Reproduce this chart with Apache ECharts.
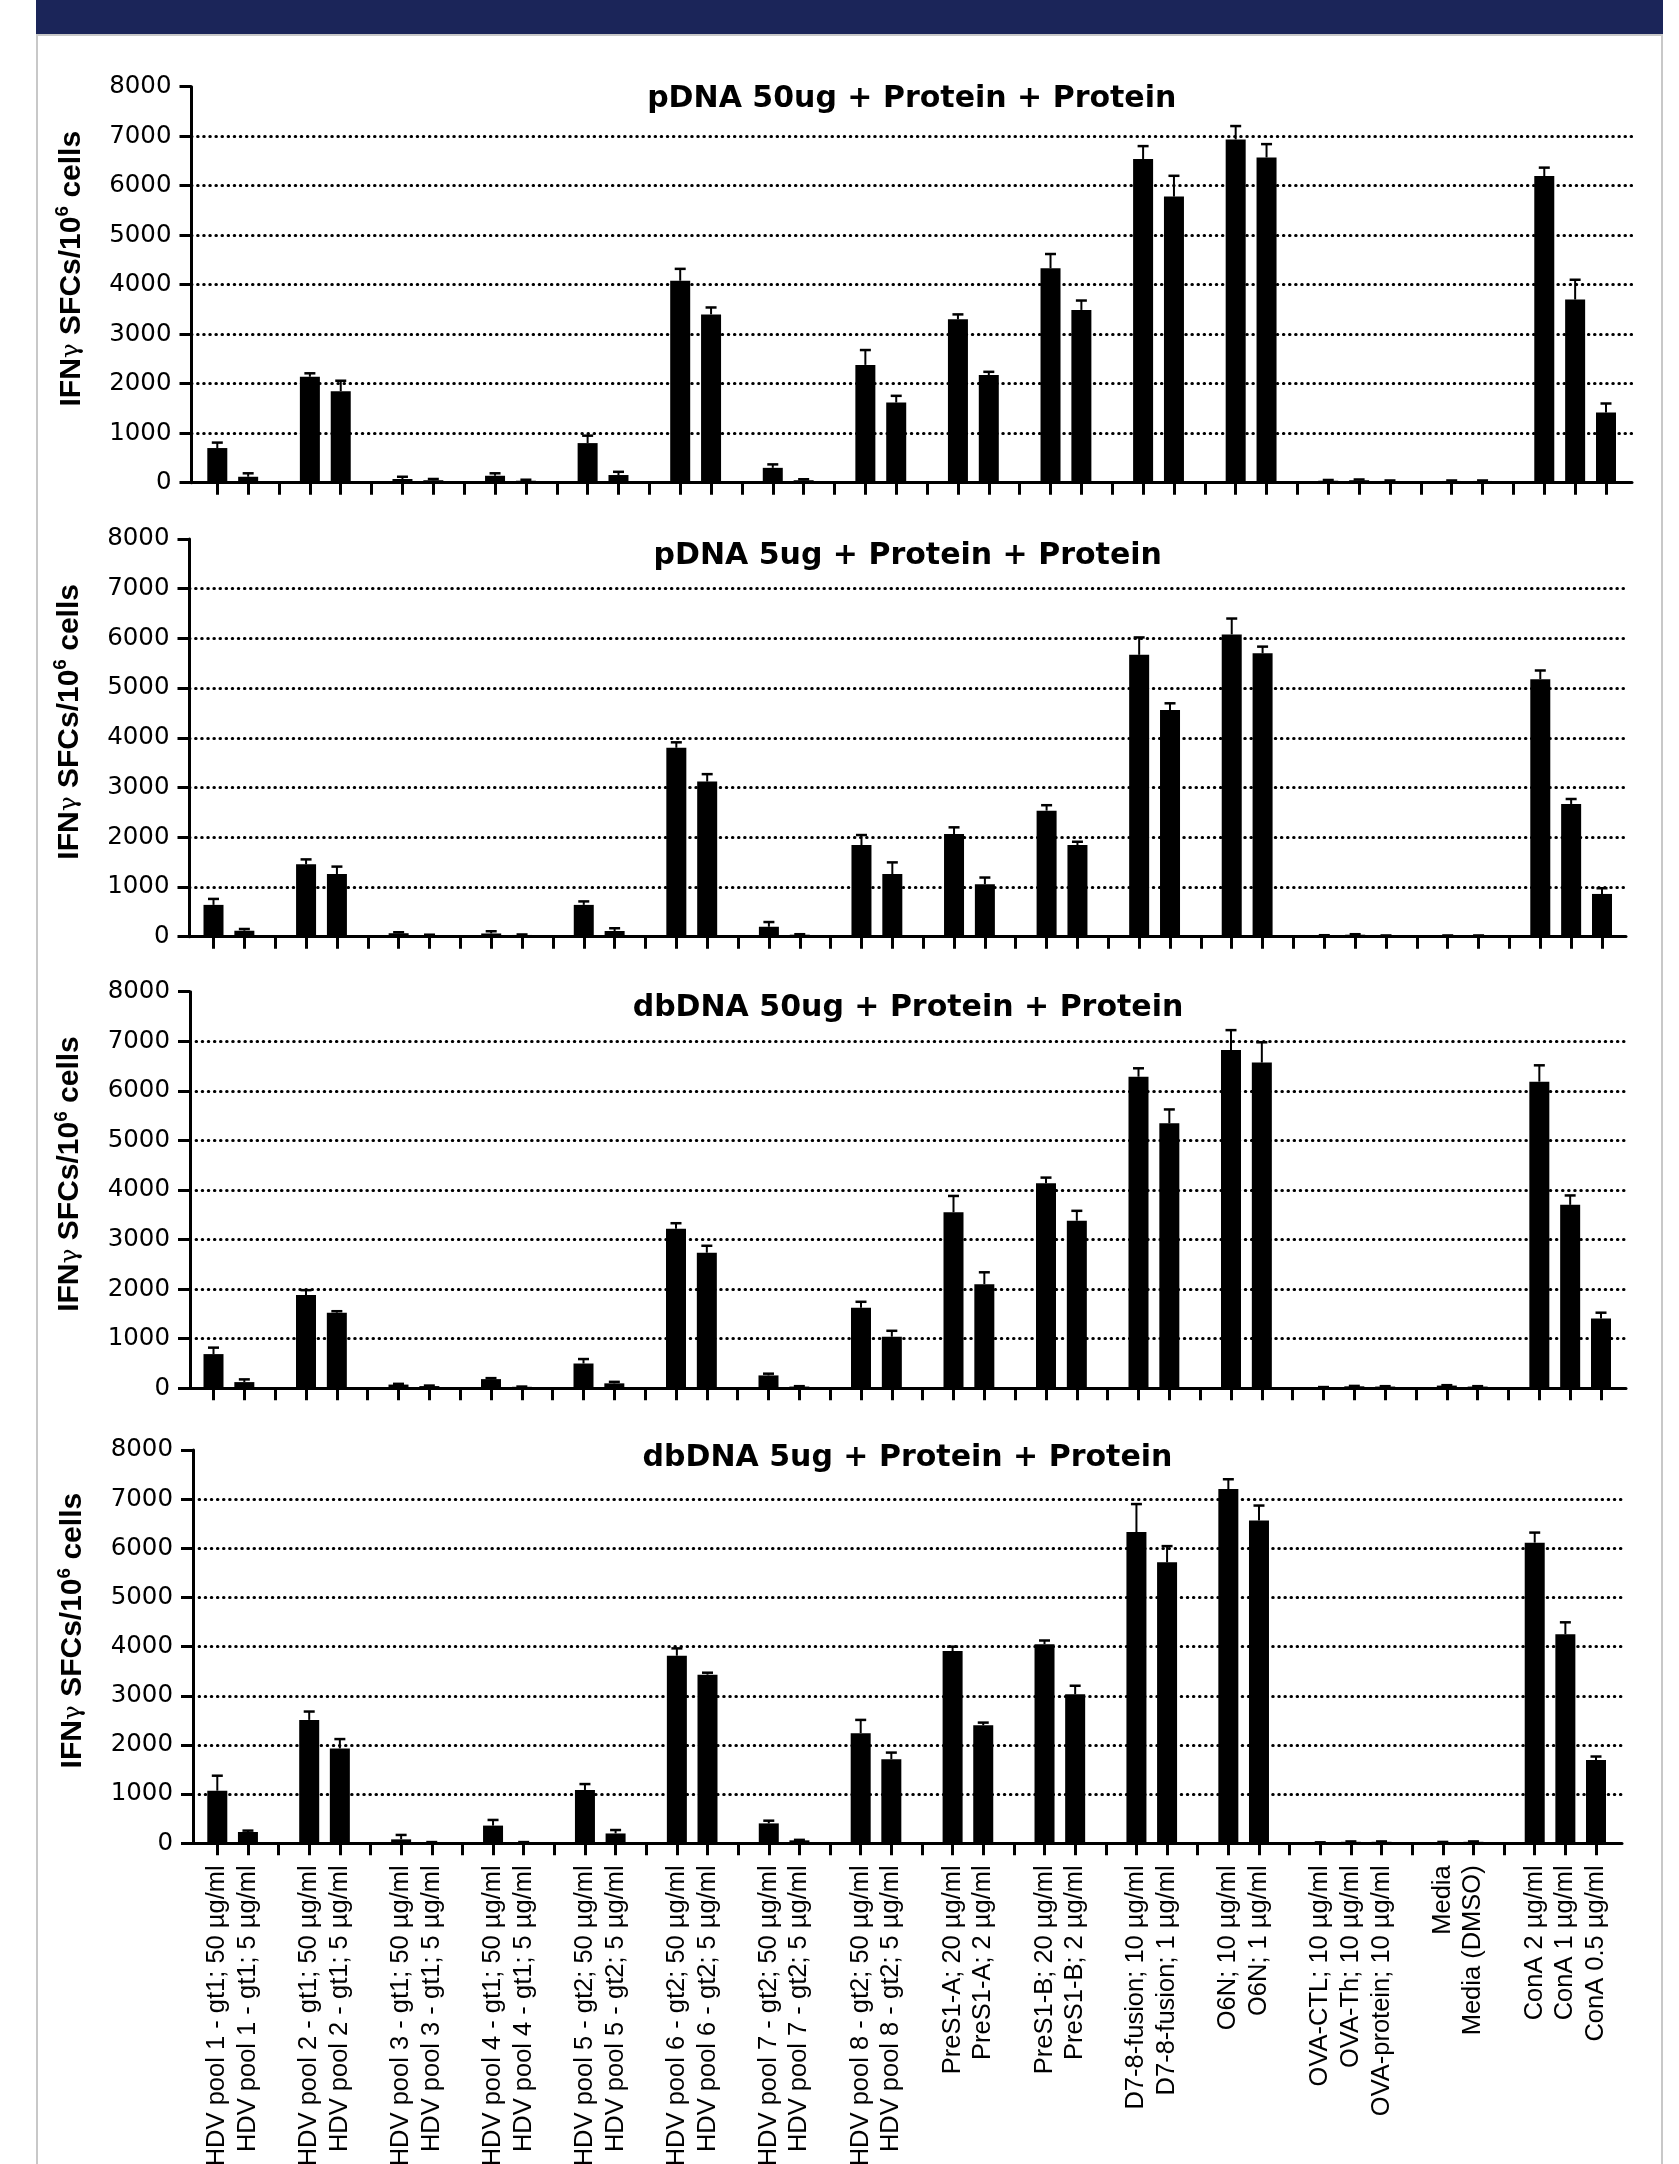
<!DOCTYPE html>
<html><head><meta charset="utf-8">
<script src="https://cdn.jsdelivr.net/npm/echarts@6/dist/echarts.min.js"></script>
<style>
html,body{margin:0;padding:0;background:#fff;overflow:hidden;width:1679px;height:2164px;}
#banner{position:absolute;left:36px;top:0;width:1627px;height:34px;background:#1b2559;}
#card{position:absolute;left:36px;top:34px;width:1623px;height:2140px;border:2px solid #c8c8c8;border-bottom:none;background:#fff;}
#chart{position:absolute;left:0;top:0;width:1679px;height:2164px;z-index:2;}
</style></head><body>
<div id="banner"></div><div id="card"></div><div id="chart"></div>
<script>
// ---------- DATA ----------
const groups = [
  ['HDV pool 1 - gt1; 50 µg/ml', 'HDV pool 1 - gt1; 5 µg/ml'],
  ['HDV pool 2 - gt1; 50 µg/ml', 'HDV pool 2 - gt1; 5 µg/ml'],
  ['HDV pool 3 - gt1; 50 µg/ml', 'HDV pool 3 - gt1; 5 µg/ml'],
  ['HDV pool 4 - gt1; 50 µg/ml', 'HDV pool 4 - gt1; 5 µg/ml'],
  ['HDV pool 5 - gt2; 50 µg/ml', 'HDV pool 5 - gt2; 5 µg/ml'],
  ['HDV pool 6 - gt2; 50 µg/ml', 'HDV pool 6 - gt2; 5 µg/ml'],
  ['HDV pool 7 - gt2; 50 µg/ml', 'HDV pool 7 - gt2; 5 µg/ml'],
  ['HDV pool 8 - gt2; 50 µg/ml', 'HDV pool 8 - gt2; 5 µg/ml'],
  ['PreS1-A; 20 µg/ml', 'PreS1-A; 2 µg/ml'],
  ['PreS1-B; 20 µg/ml', 'PreS1-B; 2 µg/ml'],
  ['D7-8-fusion; 10 µg/ml', 'D7-8-fusion; 1 µg/ml'],
  ['O6N; 10 µg/ml', 'O6N; 1 µg/ml'],
  ['OVA-CTL; 10 µg/ml', 'OVA-Th; 10 µg/ml', 'OVA-protein; 10 µg/ml'],
  ['Media', 'Media (DMSO)'],
  ['ConA 2 µg/ml', 'ConA 1 µg/ml', 'ConA 0.5 µg/ml']
];

const panelTitles = [
  'pDNA 50ug + Protein + Protein',
  'pDNA 5ug + Protein + Protein',
  'dbDNA 50ug + Protein + Protein',
  'dbDNA 5ug + Protein + Protein'
];

const yTicks = [0, 1000, 2000, 3000, 4000, 5000, 6000, 7000, 8000];

const pDNA50    = [700,120,2140,1850,75,50,140,40,800,155,4080,3400,300,50,2380,1620,3300,2175,4330,3490,6540,5780,6935,6570,40,50,35,35,35,6195,3700,1420];
const pDNA50_sd = [110,70,70,210,45,25,50,20,150,65,240,140,70,20,300,135,100,65,290,190,260,420,270,270,15,15,10,10,10,170,400,180];

const pDNA5     = [640,120,1455,1260,70,30,65,35,640,115,3800,3120,200,40,1845,1260,2065,1055,2535,1845,5670,4560,6080,5700,25,40,20,20,20,5180,2670,860];
const pDNA5_sd  = [120,35,100,150,20,10,45,10,70,55,110,150,95,10,200,235,135,135,110,65,350,135,320,135,5,10,5,5,5,175,100,115];

const dbDNA50    = [690,125,1880,1525,75,45,185,30,500,100,3220,2735,260,35,1625,1040,3550,2100,4135,3380,6285,5345,6825,6570,20,40,35,55,35,6185,3700,1410];
const dbDNA50_sd = [130,55,100,30,15,10,20,5,90,30,110,140,35,8,120,120,330,240,115,200,170,280,400,410,5,8,8,8,8,330,190,115];

const dbDNA5    = [1070,230,2510,1930,80,20,360,20,1085,200,3815,3430,405,60,2240,1710,3910,2400,4050,3030,6330,5715,7205,6565,15,30,30,20,30,6115,4250,1695];
const dbDNA5_sd = [305,28,170,190,90,5,115,5,120,70,150,40,55,10,270,135,90,55,75,175,570,330,200,305,5,8,8,8,8,205,245,70];

const panelValues = [pDNA50, pDNA5, dbDNA50, dbDNA5];
const panelErrors = [pDNA50_sd, pDNA5_sd, dbDNA50_sd, dbDNA5_sd];

// ---------- LAYOUT ----------
const layout = [
  {yA:191.5, first:217.3, last:1606, end:1632, top:86.7,  zero:482.7,  titleTop:84},
  {yA:189.5, first:213.5, last:1602, end:1626, top:539,   zero:936.7,  titleTop:541},
  {yA:190,   first:213.5, last:1601, end:1626, top:991.7, zero:1388.3, titleTop:993},
  {yA:193,   first:217.3, last:1596, end:1622, top:1450,  zero:1843.3, titleTop:1443}
];

// slots: categories with blank spacer slots between groups
const slotNames = [];
const barSlot = [];
let gapCount = 0;
groups.forEach((g, gi) => {
  g.forEach(name => { barSlot.push(slotNames.length); slotNames.push(name); });
  if (gi < groups.length - 1) { gapCount++; slotNames.push(' '.repeat(gapCount)); }
});
const nSlots = slotNames.length;

const grids = [], xAxes = [], yAxes = [], series = [], titles = [];

layout.forEach((L, p) => {
  const h = L.zero - L.top;
  const slot = (L.last - L.first) / (nSlots - 1);
  const bLeft = L.first - slot / 2;
  grids.push({left: L.yA, top: L.top, width: L.end - L.yA, height: h, containLabel: false, outerBoundsMode: 'none'});
  grids.push({left: bLeft, top: L.top, width: slot * nSlots, height: h, containLabel: false, outerBoundsMode: 'none'});

  titles.push({
    text: panelTitles[p], left: (L.yA + L.end) / 2, top: L.titleTop, textAlign: 'center', padding: 0,
    textStyle: {fontFamily: 'DejaVu Sans', fontWeight: 'bold', fontSize: 30, color: '#000'}
  });

  xAxes.push({
    gridIndex: 2*p, type: 'value', min: 0, max: 1, position: 'bottom',
    axisLine: {show: true, onZero: false, lineStyle: {color: '#000', width: 3}},
    axisTick: {show: false}, axisLabel: {show: false}, splitLine: {show: false}
  });
  xAxes.push({
    gridIndex: 2*p+1, type: 'category', data: slotNames, boundaryGap: true, position: 'bottom',
    axisLine: {show: false},
    axisTick: {show: true, alignWithLabel: true, interval: 0, length: 12, lineStyle: {color: '#000', width: 3}},
    axisLabel: {show: p === 3, rotate: 90, interval: 0, margin: 22, fontFamily: 'Liberation Sans', fontSize: 25.5, color: '#000'},
    splitLine: {show: false}
  });

  yAxes.push({
    gridIndex: 2*p, type: 'value', min: yTicks[0], max: yTicks[yTicks.length-1], interval: yTicks[1]-yTicks[0],
    axisLine: {show: true, lineStyle: {color: '#000', width: 3}},
    axisTick: {show: true, length: 12, lineStyle: {color: '#000', width: 3}},
    axisLabel: {margin: 20, fontFamily: 'DejaVu Sans', fontSize: 24.5, color: '#000', formatter: v => String(v)},
    splitLine: {show: true, showMinLine: false, showMaxLine: false,
      lineStyle: {color: '#000', width: 3, type: [0.5, 5.6], cap: 'round'}},
    name: '{a|IFN}{g|γ}{a| SFCs/10}{s|6}{a| cells}',
    nameLocation: 'middle', nameRotate: 90, nameGap: 102,
    nameTextStyle: {
      padding: [0, 0, 0, 32],
      rich: {
        a: {fontFamily: 'Liberation Sans', fontWeight: 'bold', fontSize: 30, color: '#000', lineHeight: 36},
        g: {fontFamily: 'DejaVu Serif', fontSize: 25, color: '#000', lineHeight: 36},
        s: {fontFamily: 'Liberation Sans', fontWeight: 'bold', fontSize: 19, color: '#000', lineHeight: 16, verticalAlign: 'top'}
      }
    }
  });
  yAxes.push({
    gridIndex: 2*p+1, type: 'value', min: yTicks[0], max: yTicks[yTicks.length-1], show: false,
    splitLine: {show: false}
  });

  const barData = new Array(nSlots).fill(null);
  const errData = [];
  panelValues[p].forEach((v, i) => {
    barData[barSlot[i]] = v;
    errData.push([barSlot[i], v, panelErrors[p][i]]);
  });

  series.push({
    type: 'bar', xAxisIndex: 2*p+1, yAxisIndex: 2*p+1, data: barData, barWidth: 20,
    itemStyle: {color: '#000'}, silent: true, z: 3
  });
  series.push({
    type: 'custom', xAxisIndex: 2*p+1, yAxisIndex: 2*p+1, data: errData, silent: true, z: 4, clip: false,
    encode: {x: 0, y: 1},
    renderItem: function (params, api) {
      const x = api.value(0), v = api.value(1), e = api.value(2);
      const b = api.coord([x, v]);
      const t = api.coord([x, v + e]);
      return {
        type: 'group',
        children: [
          {type: 'line', shape: {x1: b[0], y1: b[1], x2: t[0], y2: t[1]}, style: {stroke: '#000', lineWidth: 2}},
          {type: 'line', shape: {x1: t[0] - 5.5, y1: t[1], x2: t[0] + 5.5, y2: t[1]}, style: {stroke: '#000', lineWidth: 2.5}}
        ]
      };
    }
  });
});

const chart = echarts.init(document.getElementById('chart'), null, {renderer: 'canvas', width: 1679, height: 2164});
chart.setOption({
  animation: false,
  title: titles,
  grid: grids,
  xAxis: xAxes,
  yAxis: yAxes,
  series: series
});
</script>
</body></html>
